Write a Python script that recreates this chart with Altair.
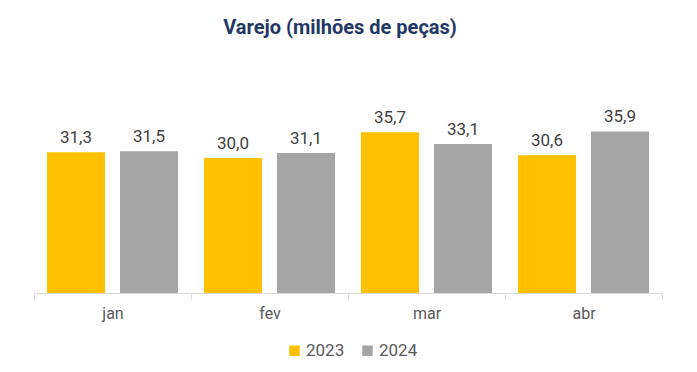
import altair as alt
import pandas as pd

months = ["jan", "fev", "mar", "abr"]
v2023 = [31.3, 30.0, 35.7, 30.6]
v2024 = [31.5, 31.1, 33.1, 35.9]
years = ["2023", "2024"]
colors = ["#FFC000", "#A5A5A5"]

rows = []
for i, m in enumerate(months):
    for y, vals in zip(years, [v2023, v2024]):
        v = vals[i]
        rows.append({"mes": m, "ano": y, "valor": v, "rot": f"{v:.1f}".replace(".", ",")})
df = pd.DataFrame(rows)

FONT = "Roboto"

base = alt.Chart(df).encode(
    x=alt.X("mes:N", sort=months, title=None,
            scale=alt.Scale(paddingInner=0, paddingOuter=0),
            axis=alt.Axis(labelAngle=0, tickBand="extent", domainColor="#D9D9D9",
                          tickColor="#D9D9D9", tickSize=6, labelFontSize=16,
                          labelColor="#595959", labelFont=FONT, labelPadding=6,
                          domainWidth=1)),
    xOffset=alt.XOffset("ano:N", scale=alt.Scale(paddingInner=0.205, paddingOuter=0.178)),
)

bars = base.mark_bar().encode(
    y=alt.Y("valor:Q", scale=alt.Scale(domain=[0, 40]), axis=None),
    color=alt.Color("ano:N", scale=alt.Scale(domain=years, range=colors),
                    legend=alt.Legend(title=None, orient="none", direction="horizontal",
                                      legendX=252, legendY=229,
                                      symbolType="square", symbolSize=110, symbolStrokeWidth=0,
                                      labelFontSize=17, labelColor="#595959", labelFont=FONT,
                                      columnPadding=14, labelOffset=3)),
)

text = base.mark_text(dy=-14, fontSize=17, font=FONT, color="#404040").encode(
    y=alt.Y("valor:Q"),
    text="rot:N",
)

chart = (bars + text).properties(
    width=628, height=180,
    title=alt.TitleParams("Varejo (milhões de peças)", fontSize=20, font=FONT,
                          fontWeight="bold", color="#1F3864", anchor="middle", offset=70, dx=-8),
    padding={"left": 25, "top": 10, "right": 10, "bottom": 5},
).configure_view(stroke=None)

chart.save("out.html", embed_options={"renderer": "svg", "actions": False})
